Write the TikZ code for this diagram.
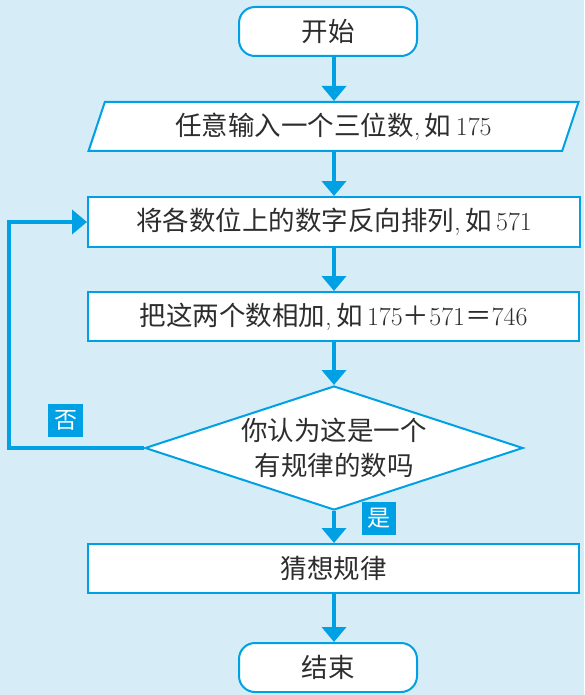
\documentclass[tikz,border=0pt]{standalone}
\usepackage{fontspec}
\newfontfamily\cjk{Noto Sans CJK SC}
\usetikzlibrary{shapes.geometric,arrows.meta}
\definecolor{bg}{RGB}{214,237,248}
\definecolor{ln}{RGB}{0,160,228}
\definecolor{tx}{RGB}{45,45,45}
\newcommand\zh[1]{{\cjk #1}}
\newcommand\dg[1]{{\fontsize{26}{30}\selectfont #1}}
\begin{document}
\begin{tikzpicture}[x=1pt,y=-1pt,
  txt/.style={text=tx,font=\fontsize{26.5}{35}\selectfont},
  box/.style={txt,draw=ln,line width=2pt,fill=white,minimum width=491pt,minimum height=49pt,inner sep=0pt},
  term/.style={box,rounded corners=16pt,minimum width=178pt},
  arr/.style={draw=ln,line width=4pt,line join=miter,-{Triangle[width=24pt,length=15pt]}},
  tag/.style={fill=ln,text=white,minimum width=35pt,minimum height=33pt,inner sep=0pt,font=\fontsize{23}{23}\selectfont\cjk}]
\path[fill=bg] (0,0) rectangle (584,695);
\useasboundingbox (0,0) rectangle (584,695);

\node[term] (start) at (328,31.5) {\zh{开始}};
\node[box,trapezium,trapezium left angle=67.8,trapezium right angle=112.2,trapezium stretches=true] (in) at (333.5,126.5) {\zh{任意输入一个三位数},\,\zh{如}\,\dg{175}};
\node[box,minimum width=492pt,minimum height=50pt] (rev) at (334,222) {\zh{将各数位上的数字反向排列},\,\zh{如}\,\dg{571}};
\node[box] (add) at (333.5,316.5) {\zh{把这两个数相加},\,\zh{如}\,\dg{175}\zh{＋}\dg{571}\zh{＝}\dg{746}};
\node[box,diamond,minimum width=378pt,minimum height=124pt] (q) at (334,448) {};
\node[txt,align=center] (qt) at (q.center) {\zh{你认为这是一个}\\\zh{有规律的数吗}};
\node[box] (guess) at (333.5,568.5) {\zh{猜想规律}};
\node[term] (end) at (328,667.5) {\zh{结束}};

\node[tag] (no) at (65.5,420.5) {否};
\node[tag,minimum width=34pt] (yes) at (379,518.5) {是};

\draw[arr] (start.south -| q.north) -- (in.north -| q.north);
\draw[arr] (in.south -| q.north) -- (rev.north -| q.north);
\draw[arr] (rev.south -| q.north) -- (add.north -| q.north);
\draw[arr] (add.south -| q.north) -- (q.north);
\draw[arr] (q.south) -- (guess.north -| q.south);
\draw[arr] (guess.south -| q.south) -- (end.north -| q.south);
\coordinate (lp) at (9,448);
\draw[arr] (q.west) -- (lp) |- (rev.west);
\end{tikzpicture}
\end{document}
